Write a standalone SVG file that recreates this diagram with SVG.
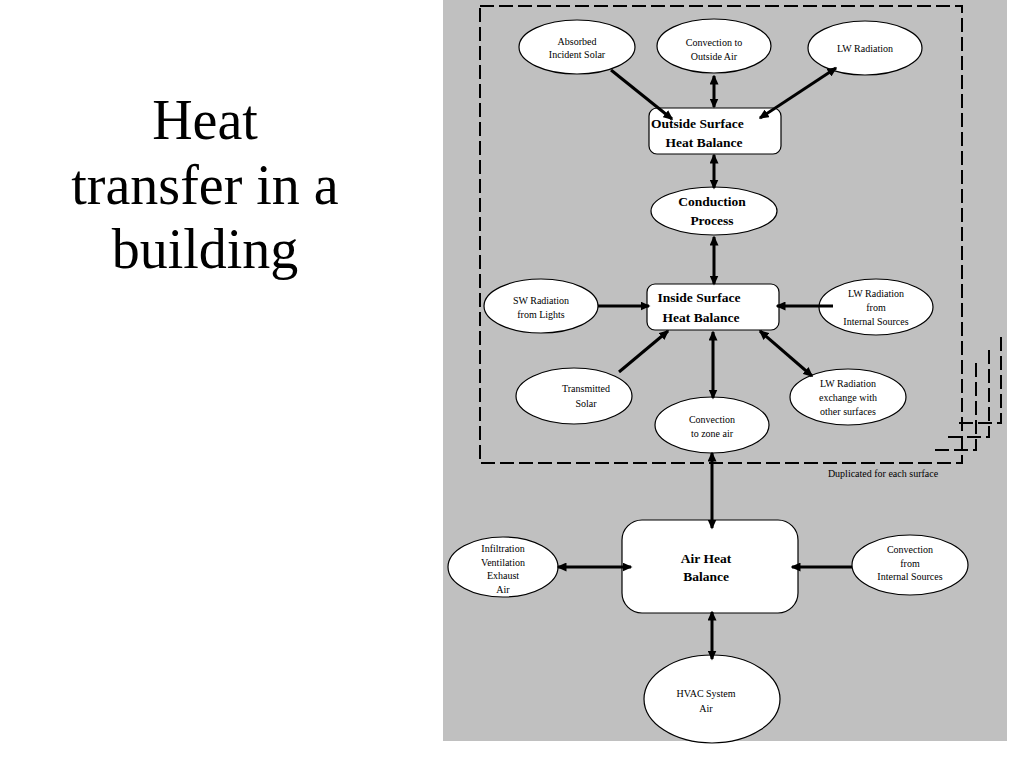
<svg xmlns="http://www.w3.org/2000/svg" width="1024" height="768" viewBox="0 0 1024 768">
<defs>
<marker id="ah" viewBox="0 0 10 9" refX="8.5" refY="4.5" markerWidth="10" markerHeight="9" markerUnits="userSpaceOnUse" orient="auto-start-reverse">
<path d="M0,0 L10,4.5 L0,9 z" fill="#000"/>
</marker>
<style>
.title{font-family:"Liberation Serif","Times New Roman",serif;font-size:56px;fill:#000;text-anchor:middle}
.el{fill:#fff;stroke:#000;stroke-width:1.2}
.box{fill:#fff;stroke:#000;stroke-width:1.2}
.t{font-family:"Liberation Serif","Times New Roman",serif;font-size:10px;fill:#000;text-anchor:middle}
.b{font-family:"Liberation Serif","Times New Roman",serif;font-size:13.5px;font-weight:bold;fill:#000;text-anchor:middle}
.c{stroke:#000;stroke-width:3;fill:none}
.one{marker-end:url(#ah)}
.two{marker-start:url(#ah);marker-end:url(#ah)}
.dash{fill:none;stroke:#000;stroke-width:2;stroke-dasharray:14,5}
</style>
</defs>
<rect width="1024" height="768" fill="#fff"/>
<g id="title">
<text class="title" x="205" y="139">Heat</text>
<text class="title" x="205" y="204">transfer in a</text>
<text class="title" x="205" y="268">building</text>
</g>
<rect id="panel" x="443" y="0" width="564" height="741" fill="#c0c0c0"/>
<g id="frame">
<rect class="dash" x="480" y="6" width="482" height="457"/>
<path class="dash" d="M976,363 V450 H930" stroke-width="2.5"/>
<path class="dash" d="M989,350 V437 H944" stroke="#555" stroke-width="1.5"/>
<path class="dash" d="M1001,337 V423 H957" stroke-width="1.8"/>
<text class="t" x="883" y="477" font-size="9.5">Duplicated for each surface</text>
</g>
<g id="absorbed">
<ellipse class="el" cx="577" cy="47" rx="58" ry="27"/>
<text class="t" x="577" y="45">Absorbed</text>
<text class="t" x="577" y="58">Incident Solar</text>
</g>
<g id="conv-outside">
<ellipse class="el" cx="714" cy="46" rx="57" ry="27"/>
<text class="t" x="714" y="46">Convection to</text>
<text class="t" x="714" y="60">Outside Air</text>
</g>
<g id="lw-radiation">
<ellipse class="el" cx="865" cy="48" rx="57" ry="27"/>
<text class="t" x="865" y="52">LW Radiation</text>
</g>
<g id="outside-surface">
<rect class="box" x="649" y="108" width="132" height="46" rx="8"/>
<text class="b" x="651" y="128" style="text-anchor:start">Outside Surface</text>
<text class="b" x="704" y="147">Heat Balance</text>
</g>
<g id="conduction">
<ellipse class="el" cx="714" cy="211" rx="63" ry="24"/>
<text class="b" x="712" y="206">Conduction</text>
<text class="b" x="712" y="225">Process</text>
</g>
<g id="inside-surface">
<rect class="box" x="647" y="284" width="132" height="46" rx="8"/>
<text class="b" x="699" y="302">Inside Surface</text>
<text class="b" x="701" y="322">Heat Balance</text>
</g>
<g id="sw-radiation">
<ellipse class="el" cx="541" cy="306" rx="57" ry="27"/>
<text class="t" x="541" y="304">SW Radiation</text>
<text class="t" x="541" y="318">from Lights</text>
</g>
<g id="lw-internal">
<ellipse class="el" cx="876" cy="307" rx="57" ry="28"/>
<text class="t" x="876" y="297">LW Radiation</text>
<text class="t" x="876" y="311">from</text>
<text class="t" x="876" y="325">Internal Sources</text>
</g>
<g id="transmitted">
<ellipse class="el" cx="574" cy="396" rx="58" ry="28"/>
<text class="t" x="586" y="392">Transmitted</text>
<text class="t" x="586" y="407">Solar</text>
</g>
<g id="conv-zone">
<ellipse class="el" cx="712" cy="425" rx="57" ry="28"/>
<text class="t" x="712" y="423">Convection</text>
<text class="t" x="712" y="437">to zone air</text>
</g>
<g id="lw-exchange">
<ellipse class="el" cx="848" cy="397" rx="58" ry="28"/>
<text class="t" x="848" y="387">LW Radiation</text>
<text class="t" x="848" y="401">exchange with</text>
<text class="t" x="848" y="415">other surfaces</text>
</g>
<g id="air-heat-balance">
<rect class="box" x="622" y="520" width="176" height="93" rx="20"/>
<text class="b" x="706" y="563">Air Heat</text>
<text class="b" x="706" y="581">Balance</text>
</g>
<g id="infiltration">
<ellipse class="el" cx="503" cy="567" rx="55" ry="30"/>
<text class="t" x="503" y="552">Infiltration</text>
<text class="t" x="503" y="566">Ventilation</text>
<text class="t" x="503" y="579">Exhaust</text>
<text class="t" x="503" y="593">Air</text>
</g>
<g id="conv-internal">
<ellipse class="el" cx="910" cy="565" rx="58" ry="30"/>
<text class="t" x="910" y="553">Convection</text>
<text class="t" x="910" y="567">from</text>
<text class="t" x="910" y="580">Internal Sources</text>
</g>
<g id="hvac">
<ellipse class="el" cx="712" cy="699" rx="68" ry="44" stroke-width="2.5"/>
<text class="t" x="706" y="697">HVAC System</text>
<text class="t" x="706" y="712">Air</text>
</g>
<g id="connectors">
<line class="c one" x1="611" y1="70" x2="672" y2="119"/>
<line class="c two" x1="714" y1="76" x2="714" y2="107"/>
<line class="c two" x1="836" y1="68" x2="760" y2="118"/>
<line class="c two" x1="714" y1="155" x2="714" y2="188"/>
<line class="c two" x1="714" y1="237" x2="714" y2="284"/>
<line class="c one" x1="598" y1="306" x2="649" y2="306"/>
<line class="c one" x1="833" y1="306" x2="777" y2="306"/>
<line class="c one" x1="619" y1="372" x2="668" y2="331"/>
<line class="c two" x1="760" y1="331" x2="812" y2="376"/>
<line class="c two" x1="713" y1="332" x2="713" y2="398"/>
<line class="c two" x1="712" y1="453" x2="712" y2="528"/>
<line class="c two" x1="558" y1="567" x2="631" y2="567"/>
<line class="c one" x1="852" y1="567" x2="792" y2="567"/>
<line class="c two" x1="712" y1="612" x2="712" y2="659"/>
</g>
</svg>
